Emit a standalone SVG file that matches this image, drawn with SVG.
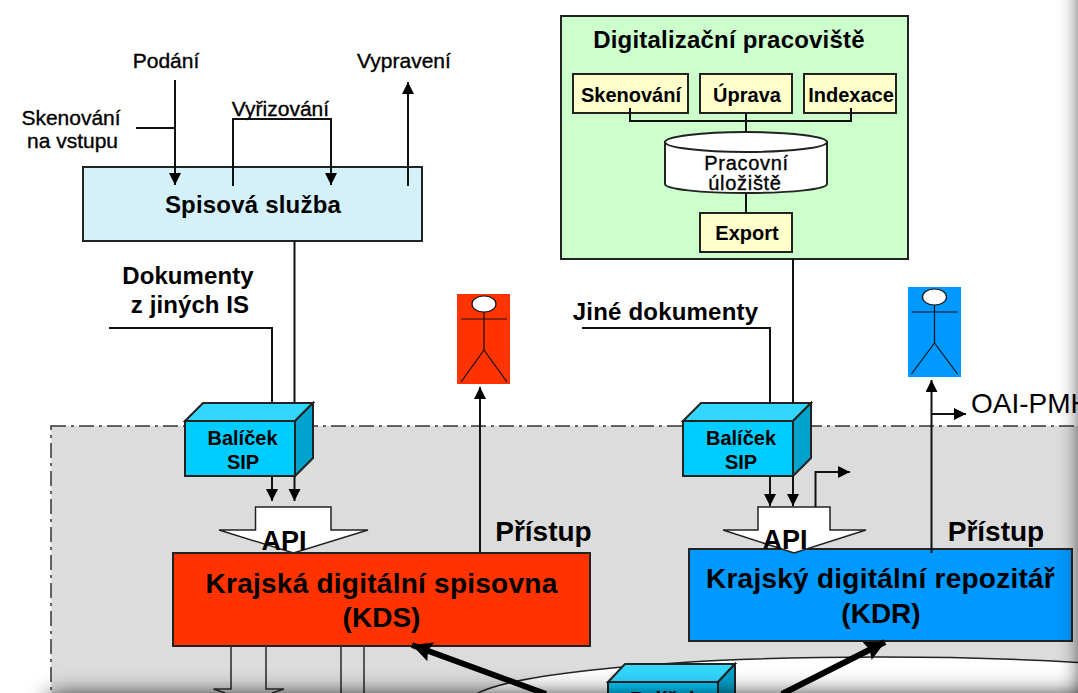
<svg xmlns="http://www.w3.org/2000/svg" width="1078" height="693" viewBox="0 0 1078 693">
<defs>
<marker id="a" markerUnits="userSpaceOnUse" markerWidth="14" markerHeight="14" refX="12" refY="6" orient="auto"><path d="M0 0L12 6L0 12Z" fill="#000"/></marker>
<marker id="b" markerUnits="userSpaceOnUse" markerWidth="24" markerHeight="24" refX="20" refY="10" orient="auto"><path d="M0 0L20 10L0 20L3 10Z" fill="#000"/></marker>
<filter id="blur" filterUnits="userSpaceOnUse" x="-100" y="-100" width="1400" height="1000"><feGaussianBlur stdDeviation="12"/></filter>
</defs>
<style>
text{font-family:"Liberation Sans",Arial,sans-serif;fill:#000;text-anchor:middle}
.b{font-weight:700}
.r{stroke:#000;stroke-width:.35}
.k{letter-spacing:.25px}
.s{stroke:#222;stroke-width:2}
.l{fill:none;stroke:#111;stroke-width:2}
.g{fill:none;stroke:#333;stroke-width:1.6}
.y{fill:#ffffcc;stroke:#222;stroke-width:2}
.f{fill:#00ccff;stroke:#222;stroke-width:2}
.t{fill:#33d6ff;stroke:#222;stroke-width:2}
.d{fill:#00a3cc;stroke:#222;stroke-width:2}
.p{fill:none;stroke:#111;stroke-width:1.2}
.api{fill:#fff;stroke:#222;stroke-width:1.5}
</style>
<rect width="1078" height="693" fill="#fff"/>
<g id="zone"><rect x="51" y="426" width="1060" height="300" fill="#dcdcdc" stroke="#333" stroke-width="1.5" stroke-dasharray="15 5 3 5"/></g>
<g id="archive"><ellipse cx="880" cy="702" rx="410" ry="45" fill="#fff" stroke="#222" stroke-width="1.5"/></g>
<g id="spisova"><rect x="83" y="167" width="339" height="74" fill="#d4f0f8" class="s"/><text x="253" y="213" font-size="24" class="b" letter-spacing=".2">Spisová služba</text></g>
<g id="podani"><text x="166" y="68" font-size="21" class="r">Podání</text></g>
<g id="skenovani-vstup"><text x="71" y="125" font-size="21" class="r">Skenování</text><text x="72.500" y="148" font-size="21" class="r">na vstupu</text></g>
<g id="vyrizovani"><text x="280.500" y="116" font-size="21" class="r">Vyřizování</text></g>
<g id="vypraveni"><text x="404" y="68" font-size="21" class="r">Vypravení</text></g>
<g id="dokumenty"><text x="188" y="284" font-size="24" class="b" letter-spacing=".1">Dokumenty</text><text x="190" y="313" font-size="24" class="b" letter-spacing=".1">z jiných IS</text></g>
<g id="jine"><text x="665.500" y="320" font-size="24" class="b" letter-spacing=".2">Jiné dokumenty</text></g>
<g id="pracoviste"><rect x="561" y="16" width="347" height="243" fill="#ccffcc" class="s"/><text x="729" y="48" font-size="24" class="b" letter-spacing=".2">Digitalizační pracoviště</text></g>
<g id="skenovani"><rect x="573" y="74" width="115" height="39" class="y"/><text x="631" y="101.500" font-size="20" class="b">Skenování</text></g>
<g id="uprava"><rect x="700" y="74" width="92" height="39" class="y"/><text x="747" y="101.500" font-size="20" class="b">Úprava</text></g>
<g id="indexace"><rect x="804" y="74" width="92" height="39" class="y"/><text x="851" y="101.500" font-size="20" class="b">Indexace</text></g>
<g id="uloziste"><path d="M665 142V184C665 189 700 193 746 193S827 189 827 184V142Z" fill="#fff" class="s"/><ellipse cx="746" cy="142" rx="81" ry="10" fill="#fff" class="s"/><text x="746.500" y="170" font-size="20" letter-spacing=".7" class="r">Pracovní</text><text x="745" y="190" font-size="20" letter-spacing=".7" class="r">úložiště</text></g>
<g id="export"><rect x="700" y="213" width="92" height="39" class="y"/><text x="747" y="239.500" font-size="20" class="b">Export</text></g>
<g id="actor-red"><rect x="457" y="294" width="53" height="90" fill="#ff3300"/><ellipse cx="484" cy="304" rx="12" ry="8" fill="#fff" stroke="#111" stroke-width="1.2"/><path class="p" d="M484 312V350M461 319H507M484 350L461 382M484 350L507 382"/></g>
<g id="actor-blue"><rect x="908" y="287" width="53" height="90" fill="#0099ff"/><ellipse cx="934.500" cy="297" rx="12" ry="8" fill="#fff" stroke="#111" stroke-width="1.2"/><path class="p" d="M934.500 305V343M911.500 312H957.500M934.500 343L911.500 374M934.500 343L957.500 374"/></g>
<g id="sip1"><path d="M185 421L203 403H313L295 421Z" class="t"/><path d="M295 421L313 403V458L295 476Z" class="d"/><rect x="185" y="421" width="110" height="55" class="f"/><text x="242.500" y="445" font-size="20" class="b">Balíček</text><text x="243" y="469" font-size="20" class="b">SIP</text></g>
<g id="sip2"><path d="M683 421L701 403H811L793 421Z" class="t"/><path d="M793 421L811 403V458L793 476Z" class="d"/><rect x="683" y="421" width="110" height="55" class="f"/><text x="741" y="445" font-size="20" class="b">Balíček</text><text x="741" y="469" font-size="20" class="b">SIP</text></g>
<g id="kds"><rect x="173" y="553" width="417" height="93" fill="#ff3300" class="s"/></g>
<g id="api1"><path class="api" d="M255.500 507H331V530H368L293.500 553L219 530H255.500Z"/><text x="284" y="550" font-size="27" class="b">API</text></g>
<g id="kds-label"><text x="381.500" y="592.500" font-size="28" class="b k">Krajská digitální spisovna</text><text x="381.500" y="627" font-size="28" class="b">(KDS)</text></g>
<g id="pristup1"><text x="543.500" y="541" font-size="28" class="b">Přístup</text></g>
<g id="kdr"><rect x="689" y="549" width="383" height="92" fill="#0099ff" class="s"/></g>
<g id="api2"><path class="api" d="M758 507H830V530H866L794 553L723 530H758Z"/><text x="785" y="549" font-size="27" class="b">API</text></g>
<g id="kdr-label"><text x="880.500" y="588" font-size="28" class="b k">Krajský digitální repozitář</text><text x="881" y="622.500" font-size="28" class="b">(KDR)</text></g>
<g id="pristup2"><text x="996" y="541" font-size="28" class="b">Přístup</text></g>
<g id="oai"><text x="971" y="413" font-size="28" style="text-anchor:start">OAI-PMH</text></g>
<g id="balicek3"><path d="M608 682L625 664H735L718 682Z" class="t"/><path d="M718 682L735 664V719L718 737Z" class="d"/><rect x="608" y="682" width="110" height="55" class="f"/><text x="665" y="706" font-size="20" class="b">Balíček</text></g>
<g id="connectors">
<path class="l" d="M175 80V185" marker-end="url(#a)"/>
<path class="l" d="M136 128H175"/>
<path class="l" d="M233 186V119H331V185" marker-end="url(#a)"/>
<path class="l" d="M408 186V82" marker-end="url(#a)"/>
<path class="l" d="M294.500 241V403"/>
<path class="l" d="M294.500 476V501" marker-end="url(#a)"/>
<path class="l" d="M109 328H272V403"/>
<path class="l" d="M272 476V501" marker-end="url(#a)"/>
<path class="l" d="M480 553V387" marker-end="url(#a)"/>
<path class="l" d="M793 259V403"/>
<path class="l" d="M793 476V506" marker-end="url(#a)"/>
<path class="l" d="M582 328H770V403"/>
<path class="l" d="M770 476V506" marker-end="url(#a)"/>
<path class="l" d="M815.500 507V472H850" marker-end="url(#a)"/>
<path class="l" d="M931.500 553V380" marker-end="url(#a)"/>
<path class="l" d="M931.500 414H966" marker-end="url(#a)"/>
<path class="g" d="M225 693L213.500 689H231V646M272 693L284 689H266V646M341 646V693M364 646V693"/>
<path fill="none" stroke="#000" stroke-width="6" d="M546 694L412 645" marker-end="url(#b)"/>
<path fill="none" stroke="#000" stroke-width="6" d="M782 694L885 642" marker-end="url(#b)"/>
<path class="l" d="M630 108V121H851V108M746 113V132M746 193V213"/>
</g>
<g id="shadow" filter="url(#blur)"><rect x="1084" y="-100" width="100" height="900"/><rect x="50" y="697" width="1100" height="100"/></g>
</svg>
